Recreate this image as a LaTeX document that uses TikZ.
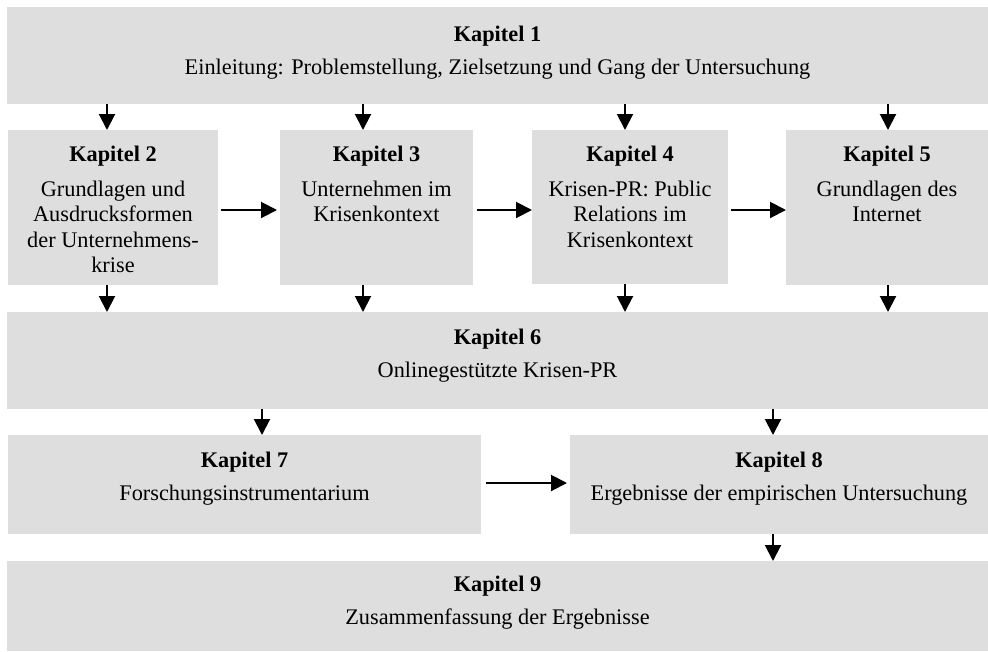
\documentclass[tikz,border=0pt]{standalone}
\usepackage{fontspec}
\setmainfont{Liberation Serif}
\usetikzlibrary{arrows.meta}
\definecolor{boxgray}{HTML}{DEDEDE}
\newcommand\bodylines[1]{\begin{tabular}[t]{@{}c@{}}#1\end{tabular}}
\begin{document}
\begin{tikzpicture}[x=1pt,y=-1pt,
  box/.style={fill=boxgray, draw=none, inner sep=0pt, outer sep=0pt, anchor=north west},
  ttl/.style={anchor=base, font=\fontsize{22.3}{25.5}\selectfont\bfseries, inner sep=0pt},
  bdy/.style={anchor=base, font=\fontsize{22.3}{25.5}\selectfont, inner sep=0pt},
  arr/.style={line width=2pt, -{Triangle[length=16pt,width=16pt]}}]
\useasboundingbox (0,0) rectangle (988,651);
% boxes
\node[box, minimum width=981pt, minimum height=97pt] (k1) at (7,7) {};
\node[box, minimum width=210pt, minimum height=155pt] (k2) at (8,130) {};
\node[box, minimum width=193pt, minimum height=155pt] (k3) at (280,130) {};
\node[box, minimum width=196pt, minimum height=154pt] (k4) at (532,130) {};
\node[box, minimum width=202pt, minimum height=155pt] (k5) at (786,130) {};
\node[box, minimum width=981pt, minimum height=97pt] (k6) at (7,312) {};
\node[box, minimum width=473pt, minimum height=99pt] (k7) at (8,435) {};
\node[box, minimum width=418pt, minimum height=99pt] (k8) at (570,435) {};
\node[box, minimum width=981pt, minimum height=90pt] (k9) at (7,561) {};
% texts
\node[ttl] (t1) at (k1.north |- 0,41) {Kapitel 1};
\node[bdy] (b1) at (k1.north |- 0,74) {Einleitung: Problemstellung, Zielsetzung und Gang der Untersuchung};
\node[ttl] (t2) at (k2.north |- 0,161) {Kapitel 2};
\node[bdy] (b2) at (k2.north |- 0,196) {\bodylines{Grundlagen und\\Ausdrucksformen\\der Unternehmens-\\krise}};
\node[ttl] (t3) at (k3.north |- 0,161) {Kapitel 3};
\node[bdy] (b3) at (k3.north |- 0,196) {\bodylines{Unternehmen im\\Krisenkontext}};
\node[ttl] (t4) at (k4.north |- 0,161) {Kapitel 4};
\node[bdy] (b4) at (k4.north |- 0,196) {\bodylines{Krisen-PR: Public\\Relations im\\Krisenkontext}};
\node[ttl] (t5) at (k5.north |- 0,161) {Kapitel 5};
\node[bdy] (b5) at (k5.north |- 0,196) {\bodylines{Grundlagen des\\Internet}};
\node[ttl] (t6) at (k6.north |- 0,344) {Kapitel 6};
\node[bdy] (b6) at (k6.north |- 0,377) {Onlinegestützte Krisen-PR};
\node[ttl] (t7) at (k7.north |- 0,467) {Kapitel 7};
\node[bdy] (b7) at (k7.north |- 0,500) {Forschungsinstrumentarium};
\node[ttl] (t8) at (k8.north |- 0,467) {Kapitel 8};
\node[bdy] (b8) at (k8.north |- 0,500) {Ergebnisse der empirischen Untersuchung};
\node[ttl] (t9) at (k9.north |- 0,591) {Kapitel 9};
\node[bdy] (b9) at (k9.north |- 0,624) {Zusammenfassung der Ergebnisse};
% vertical arrows
\draw[arr] (k1.south -| 107,0) -- (k2.north -| 107,0);
\draw[arr] (k1.south -| 363,0) -- (k3.north -| 363,0);
\draw[arr] (k1.south -| 625,0) -- (k4.north -| 625,0);
\draw[arr] (k1.south -| 888,0) -- (k5.north -| 888,0);
\draw[arr] (k2.south -| 107,0) -- (k6.north -| 107,0);
\draw[arr] (k3.south -| 363,0) -- (k6.north -| 363,0);
\draw[arr] (k4.south -| 625,0) -- (k6.north -| 625,0);
\draw[arr] (k5.south -| 888,0) -- (k6.north -| 888,0);
\draw[arr] (k6.south -| 262,0) -- (k7.north -| 262,0);
\draw[arr] (k6.south -| 773,0) -- (k8.north -| 773,0);
\draw[arr] (k8.south -| 773,0) -- (k9.north -| 773,0);
% horizontal arrows
\draw[arr, shorten <=3pt, shorten >=3pt] (k2.east |- 0,210) -- (k3.west |- 0,210);
\draw[arr, shorten <=4pt] (k3.east |- 0,210) -- (k4.west |- 0,210);
\draw[arr, shorten <=3pt] (k4.east |- 0,210) -- (k5.west |- 0,210);
\draw[arr, shorten <=5pt, shorten >=3pt] (k7.east |- 0,483) -- (k8.west |- 0,483);
\end{tikzpicture}
\end{document}
